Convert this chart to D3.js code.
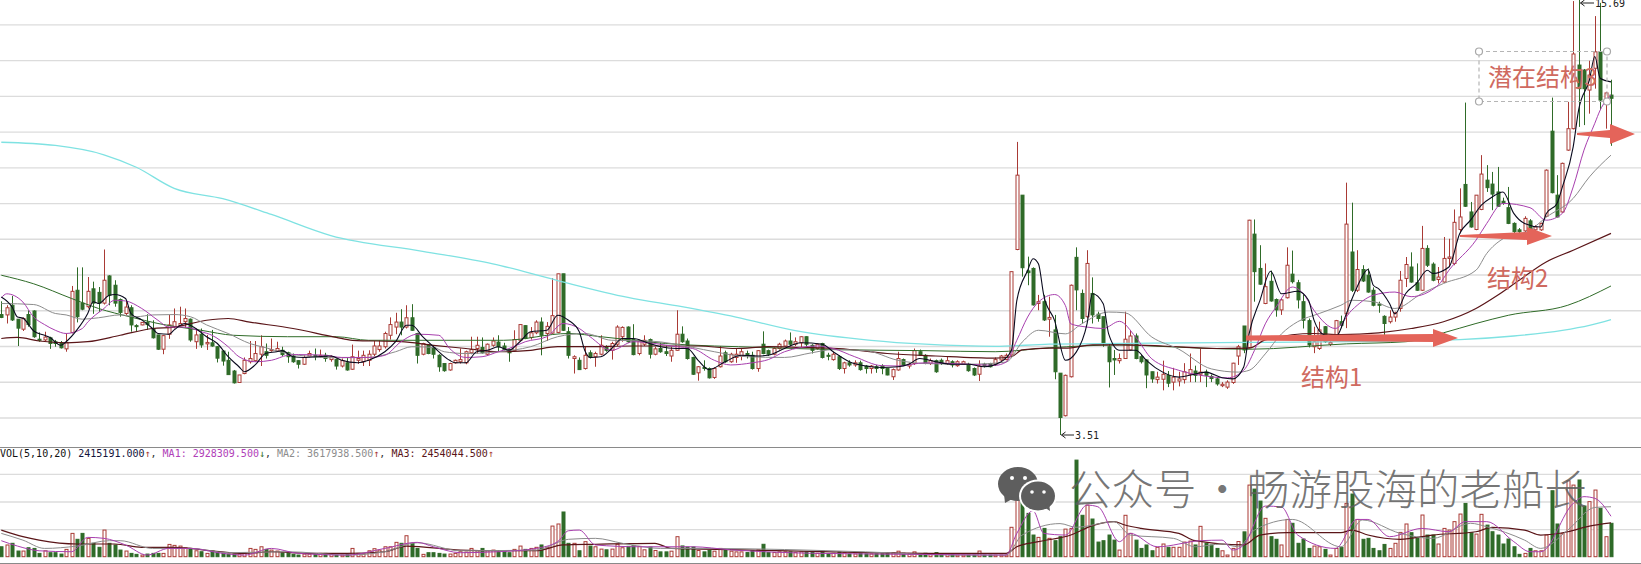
<!DOCTYPE html>
<html>
<head>
<meta charset="utf-8">
<script src="https://cdn.jsdelivr.net/npm/d3@7"></script>
<style>
html, body { margin: 0; padding: 0; background: #fff; overflow: hidden; }
svg { display: block; }
</style>
</head>
<body>
<script>
// candles, ten per row
var opens = [
6.88,6.87,7.14,6.75,6.47,6.88,6.98,6.19,6.17,6.23,
6.12,6.09,5.92,6.38,7.56,7.2,7.1,7.6,7.5,7.2,
7.96,7.7,7.3,6.91,7.07,6.57,6.59,6.66,6.49,6.31,
5.91,6.33,6.54,6.57,6.68,6.75,6.12,6.33,6.06,6.09,
5.98,5.86,5.6,5.3,4.98,5.23,5.56,5.59,5.77,5.84,
5.87,5.86,5.88,5.81,5.72,5.59,5.49,5.72,5.74,5.7,
5.74,5.62,5.62,5.44,5.53,5.35,5.6,5.56,5.6,5.77,
5.9,5.98,6.3,6.53,6.67,6.53,6.79,6.35,5.77,6.03,
5.95,5.74,5.51,5.33,5.53,5.56,5.53,5.81,5.93,5.96,
5.77,6.02,6.11,6.0,5.9,5.87,6.16,6.57,6.24,6.37,
6.67,6.35,6.36,6.38,8.02,6.4,5.65,5.6,5.37,5.81,
5.7,5.77,5.98,5.88,6.05,6.26,6.53,6.18,5.79,6.05,
6.18,5.77,5.93,5.84,5.72,5.88,6.33,6.14,5.68,5.25,
5.4,5.37,5.12,5.42,5.81,5.56,5.68,5.72,5.79,5.74,
5.37,6.05,5.87,5.77,5.93,6.0,6.14,6.05,6.09,6.26,
6.02,5.93,6.07,5.74,5.62,5.7,5.37,5.53,5.47,5.53,
5.44,5.37,5.42,5.44,5.37,5.14,5.33,5.62,5.44,5.51,
5.84,5.74,5.51,5.59,5.6,5.51,5.56,5.45,5.49,5.49,
5.37,5.21,5.49,5.51,5.49,5.61,5.62,5.75,8.7,10.22,
8.1,8.17,7.19,7.24,6.75,6.45,5.24,4.05,5.14,8.48,
7.47,6.82,7.47,6.89,6.82,5.98,5.65,5.59,5.65,5.89,
6.28,5.7,5.61,5.28,5.06,5.07,5.18,4.99,5.02,5.06,
5.21,5.3,5.21,5.27,5.15,5.08,4.89,4.85,4.98,5.72,
6.56,5.96,9.13,8.17,7.19,7.81,7.3,7.01,7.35,8.01,
7.77,7.24,6.71,5.98,5.93,6.54,6.05,6.28,6.68,6.9,
8.63,7.56,8.14,7.98,7.56,7.17,6.83,6.68,6.81,7.05,
7.89,8.21,7.77,7.56,8.73,8.29,7.86,7.79,8.45,8.31,
9.26,10.52,9.75,9.26,9.82,10.64,10.53,10.31,10.05,9.87,
9.43,9.25,9.22,9.5,9.25,9.25,9.63,12.01,10.22,9.75,
11.48,12.08,13.86,13.72,13.16,13.77,14.23,12.88,13.02];
var closes = [
6.8,7.07,6.73,6.5,6.77,6.6,6.26,6.16,6.25,6.07,
6.07,5.95,6.1,7.53,6.82,7.03,7.53,7.2,7.2,7.84,
7.42,7.2,6.94,7.09,6.59,6.55,6.66,6.6,6.23,5.91,
6.29,6.59,6.68,6.63,6.77,6.17,6.31,6.03,6.1,6.0,
5.66,5.58,5.2,4.97,5.19,5.6,5.65,5.79,5.98,5.74,
5.9,5.93,5.76,5.7,5.56,5.49,5.68,5.79,5.7,5.74,
5.65,5.7,5.44,5.59,5.33,5.7,5.65,5.74,5.77,6.0,
6.0,6.35,6.6,6.67,6.53,6.79,6.44,5.74,6.07,5.79,
5.77,5.42,5.31,5.51,5.6,5.62,5.84,5.9,6.02,5.81,
6.05,6.14,5.98,5.9,5.81,6.18,6.6,6.21,6.37,6.67,
6.3,6.55,6.85,8.02,6.44,5.74,5.7,5.34,5.74,5.68,
5.79,6.02,5.88,6.07,6.53,6.52,6.12,5.76,6.14,6.16,
5.77,5.92,5.84,5.79,5.88,6.33,6.12,5.65,5.21,5.42,
5.37,5.11,5.37,5.72,5.56,5.77,5.77,5.84,5.74,5.37,
5.87,5.79,5.77,5.93,6.05,6.14,6.05,6.12,6.26,6.05,
5.88,6.05,5.68,5.72,5.77,5.37,5.53,5.47,5.53,5.34,
5.37,5.44,5.37,5.37,5.19,5.34,5.65,5.47,5.49,5.87,
5.74,5.51,5.59,5.28,5.51,5.59,5.47,5.56,5.56,5.31,
5.19,5.44,5.44,5.42,5.62,5.72,5.74,8.08,10.78,8.19,
8.05,7.15,7.24,6.73,6.8,5.28,4.0,5.18,7.7,7.57,
6.77,8.31,6.87,6.77,6.09,5.56,5.61,5.65,6.19,6.28,
5.65,5.56,5.19,5.08,5.13,5.21,4.96,5.13,5.08,5.28,
5.34,5.18,5.27,5.18,5.09,4.94,4.93,4.99,5.52,5.98,
5.89,9.52,8.08,7.73,7.66,7.26,7.01,7.29,8.26,7.8,
7.29,6.72,6.03,6.12,6.45,6.12,6.1,6.71,6.58,9.41,
7.56,8.14,7.82,7.51,7.14,7.14,6.63,6.81,6.93,7.84,
8.28,7.79,7.56,8.73,8.26,7.84,7.93,8.45,8.49,9.46,
9.61,9.91,9.33,10.22,10.81,10.43,10.25,9.91,10.0,9.43,
9.2,9.2,9.57,9.25,9.33,9.43,10.92,10.29,9.61,11.11,
12.08,14.17,13.2,13.2,13.58,14.23,12.88,13.08,12.93];
var highs = [
7.25,7.14,7.4,6.75,6.8,7.0,7.0,6.38,6.4,6.26,
6.17,6.14,6.35,7.68,8.2,8.2,7.93,7.8,7.65,8.7,
7.98,7.84,7.33,7.27,7.14,6.61,6.67,6.89,6.72,6.31,
6.31,6.87,7.05,7.1,7.05,6.77,6.49,6.49,6.31,6.45,
6.0,5.89,5.84,5.33,5.19,5.68,6.14,6.14,6.3,6.07,
6.21,6.12,5.98,5.84,5.79,5.6,5.74,5.87,5.93,5.9,
5.81,5.74,5.65,5.65,5.68,6.04,5.87,5.87,5.88,6.14,
6.16,6.4,6.8,6.93,7.03,7.14,7.17,6.37,6.09,6.05,
6.0,5.77,5.51,5.53,5.62,5.93,5.87,6.26,6.26,6.24,
6.07,6.24,6.3,6.09,5.93,6.44,6.61,6.58,6.53,6.72,
6.8,6.67,7.9,8.02,8.02,6.53,5.74,5.68,6.0,5.88,
5.84,6.3,6.02,6.12,6.58,6.55,6.55,6.61,6.18,6.3,
6.21,5.98,6.09,6.02,5.98,7.0,6.55,6.21,5.7,5.44,
5.6,5.4,5.4,6.0,5.87,5.81,5.93,5.93,5.87,5.84,
5.88,6.41,5.9,5.96,6.09,6.18,6.38,6.24,6.27,6.27,
6.05,6.07,6.09,5.81,5.84,5.74,5.56,5.6,5.6,5.59,
5.47,5.47,5.47,5.49,5.38,5.37,5.84,5.65,5.53,5.93,
5.9,5.77,5.65,5.62,5.65,5.7,5.6,5.6,5.59,5.53,
5.4,5.6,5.53,5.53,5.68,5.75,5.79,8.08,11.71,10.22,
8.5,8.2,7.43,7.43,7.38,6.87,5.24,5.2,7.72,8.76,
7.58,8.68,7.92,6.96,6.82,6.07,5.89,5.79,6.96,6.45,
6.35,5.75,5.63,5.28,5.28,5.59,5.3,5.39,5.28,5.52,
5.79,5.45,5.93,5.34,5.2,5.13,4.99,5.04,5.53,6.03,
6.56,9.53,9.54,8.82,8.31,8.11,7.33,7.33,8.76,8.67,
7.85,7.45,6.77,6.54,6.68,6.56,6.15,6.73,6.85,10.57,
10.01,8.68,8.26,8.17,7.64,7.24,6.86,7.0,6.96,8.1,
8.49,8.62,8.31,9.36,8.82,8.34,8.21,9.05,9.0,9.82,
10.41,12.81,10.03,10.22,11.34,11.06,10.87,11.01,10.15,10.45,
9.46,9.3,9.63,9.55,9.38,9.45,10.94,12.95,10.78,11.13,
12.83,15.65,15.69,13.75,13.98,15.23,15.6,13.11,13.45];
var lows = [
6.78,6.63,6.7,6.0,6.42,6.54,6.23,6.12,6.14,5.92,
5.98,5.93,5.84,6.35,6.66,7.0,7.05,6.9,6.95,7.16,
7.14,7.1,6.82,6.87,6.4,6.42,6.58,6.45,6.21,5.89,
5.77,6.2,6.49,6.54,6.51,6.12,5.92,5.95,5.89,5.98,
5.54,5.45,5.2,4.95,4.98,5.21,5.51,5.56,5.44,5.65,
5.84,5.84,5.72,5.53,5.53,5.37,5.47,5.68,5.6,5.68,
5.56,5.56,5.34,5.4,5.31,5.33,5.5,5.44,5.44,5.72,
5.84,5.93,6.18,6.33,6.3,6.49,6.42,5.51,5.74,5.77,
5.65,5.28,5.28,5.31,5.51,5.51,5.49,5.77,5.79,5.79,
5.74,5.98,5.84,5.88,5.56,5.84,6.14,6.19,6.18,6.33,
5.74,6.14,6.34,6.36,6.42,5.65,5.23,5.33,5.34,5.65,
5.42,5.74,5.84,5.62,6.0,6.12,6.09,5.74,5.74,6.0,
5.65,5.74,5.81,5.72,5.56,5.87,6.09,5.62,5.19,5.03,
5.31,5.09,5.08,5.4,5.53,5.53,5.53,5.6,5.65,5.34,
5.28,5.77,5.72,5.74,5.9,5.98,6.0,6.0,5.96,5.96,
5.79,5.9,5.65,5.6,5.59,5.33,5.23,5.42,5.42,5.31,
5.23,5.23,5.25,5.21,5.18,5.05,5.31,5.44,5.37,5.47,
5.72,5.49,5.47,5.25,5.47,5.47,5.4,5.42,5.47,5.28,
5.16,5.02,5.4,5.4,5.44,5.57,5.6,5.73,8.68,7.94,
7.7,7.13,7.0,6.7,6.26,5.07,3.51,4.03,5.12,7.0,
6.63,6.77,6.63,6.68,5.98,4.84,5.19,5.51,5.64,5.87,
5.63,5.51,4.82,4.97,4.95,4.76,4.85,4.76,4.87,4.95,
4.99,4.99,4.99,4.85,4.99,4.89,4.85,4.8,4.94,5.47,
5.8,5.94,7.24,7.71,7.17,7.24,6.82,6.87,7.33,7.75,
7.05,6.49,5.96,5.8,5.89,6.09,6.0,6.26,6.5,6.5,
7.51,7.51,7.79,7.49,7.11,6.93,6.3,6.63,6.68,6.96,
7.65,7.77,7.54,7.54,8.21,7.81,7.75,7.77,8.21,8.26,
9.15,9.89,9.31,9.24,9.8,10.31,9.8,9.89,9.95,9.41,
9.1,9.1,9.19,9.2,9.2,9.22,9.61,10.27,9.6,9.73,
11.46,12.06,12.13,12.18,12.5,13.2,12.6,12.08,11.6];
// volume in millions
var vols = [
.72,.85,.97,.41,.41,.65,.6,.24,.43,.29,
.29,.19,.53,1.69,1.26,1.69,1.33,.97,.68,1.93,
.97,.85,.48,.41,.24,.17,.12,.19,.24,.24,
.24,.89,.82,.77,.65,.6,.43,.36,.24,.41,
.36,.24,.19,.19,.19,.29,.6,.53,.72,.53,
.48,.41,.29,.24,.17,.12,.19,.19,.19,.24,
.24,.17,.12,.12,.17,.6,.24,.19,.43,.58,
.48,.72,.72,1.04,.97,1.52,.97,.6,.17,.29,
.29,.24,.19,.19,.24,.36,.34,.6,.43,.6,
.43,.48,.36,.36,.29,.53,.77,.53,.6,.68,
.85,.68,2.22,2.37,3.24,.97,.97,.43,1.09,.77,
.72,.55,.5,.55,.9,.65,.75,.8,.75,.5,
.7,.45,.35,.35,.4,1.45,.78,.7,.7,.45,
.35,.45,.4,.6,.5,.4,.35,.35,.3,.45,
.5,.9,.3,.3,.35,.35,.35,.3,.35,.35,
.3,.25,.4,.2,.25,.35,.3,.2,.2,.25,
.2,.2,.2,.2,.25,.3,.4,.25,.2,.35,
.2,.25,.15,.3,.2,.2,.15,.12,.12,.12,
.12,.41,.12,.12,.12,.12,.12,2.13,5.6,4.23,
3.14,1.57,1.4,2.05,1.33,1.16,1.45,2.0,2.05,7.0,
3.0,3.74,2.73,1.06,1.16,1.57,1.2,.48,3.0,1.69,
1.2,.6,.85,.43,.68,.92,.68,.68,.68,1.06,
1.13,.85,2.2,.97,.85,.6,.43,.12,.6,1.1,
1.8,5.19,4.9,4.03,2.78,1.45,1.26,.85,2.7,2.42,
.97,1.28,.6,.77,.72,.53,.12,.6,.68,3.86,
4.54,2.7,1.26,1.33,.6,.43,.89,.6,.97,1.76,
2.37,1.74,1.4,3.02,1.57,1.57,.92,2.05,1.93,2.54,
3.09,3.86,1.74,1.64,3.07,2.29,1.81,1.57,.92,1.28,
.72,.17,.24,.6,.43,.43,1.57,4.78,2.37,1.69,
5.5,5.19,5.56,3.67,3.99,4.83,3.5,1.45,2.42];

// price moving averages, read at the listed candle numbers
var ma5Idx = [0,2,3,4,6,8,9,11,12,14,16,17,18,20,21,23,24,26,28,29,31,32,34,36,38,40,42,44,45,47,49,51,52,54,56,61,63,66,68,71,73,75,76,78,80,83,84,86,88,90,92,94,96,98,101,103,105,107,108,109,111,113,115,117,120,122,125,127,129,131,134,137,140,142,145,148,152,154,157,160,163,166,168,170,173,176,179,182,185,187,188,190,191,192,193,195,197,199,201,202,204,205,207,210,212,214,218,220,223,226,228,230,231,233,235,237,240,242,243,245,247,249,250,251,253,254,255,257,258,260,262,264,265,268,270,272,274,276,278,280,282,285,286,288,289,291,292,294,295,296,298];
var ma5Val = [7.37,7.09,6.81,6.78,6.42,6.3,6.24,6.02,6.12,6.45,6.91,7.24,7.19,7.42,7.44,7.33,6.91,6.73,6.49,6.35,6.33,6.45,6.63,6.49,6.26,6.07,5.7,5.42,5.28,5.47,5.8,5.84,5.87,5.7,5.68,5.72,5.6,5.53,5.6,5.84,6.12,6.58,6.58,6.26,5.98,5.6,5.53,5.53,5.84,5.88,5.98,5.88,6.12,6.4,6.44,6.86,6.72,6.4,5.88,5.68,5.7,5.93,6.21,6.21,6.07,5.98,5.93,5.93,5.6,5.34,5.56,5.74,5.72,5.74,5.93,6.09,6.05,5.84,5.56,5.44,5.4,5.42,5.49,5.65,5.56,5.49,5.49,5.42,5.55,5.88,7.27,8.11,8.44,8.3,7.41,6.71,5.6,5.83,6.62,7.46,7.18,6.34,5.88,5.88,5.6,5.36,5.13,5.18,5.27,5.11,5.08,5.41,6.34,7.27,8.09,7.46,7.53,7.28,6.73,6.3,6.25,6.9,7.3,7.65,8.14,7.7,7.6,7.19,6.9,7.47,7.75,8.12,8.03,8.21,9.15,9.52,9.94,10.17,10.31,9.71,9.43,9.33,9.7,9.99,10.45,11.57,12.6,13.44,14.1,13.49,13.39];
var ma10Idx = [0,1,4,6,8,10,12,15,16,19,21,23,26,29,31,34,37,39,42,44,47,50,53,55,60,63,68,71,74,77,81,83,86,89,92,94,97,101,104,107,109,113,117,121,125,128,132,135,139,142,145,151,154,158,163,166,171,179,184,186,188,190,192,195,197,198,201,204,207,210,213,218,222,227,230,232,234,236,239,241,243,247,250,254,258,261,266,268,273,275,278,283,286,289,291,293,295,296,298];
var ma10Val = [7.35,7.46,7.23,6.81,6.6,6.44,6.35,6.49,6.67,7.05,7.28,7.26,7.05,6.72,6.53,6.53,6.4,6.3,5.98,5.7,5.56,5.6,5.74,5.76,5.74,5.68,5.68,5.74,6.12,6.33,6.3,5.93,5.68,5.7,5.84,5.93,6.12,6.26,6.63,6.49,6.26,5.88,6.12,6.07,5.98,5.93,5.6,5.47,5.53,5.62,5.84,6.0,5.93,5.7,5.45,5.44,5.53,5.49,5.46,5.55,6.16,6.81,7.23,7.44,7.13,6.62,6.53,6.49,6.69,6.25,5.64,5.32,5.18,5.11,5.32,5.88,6.62,7.09,7.65,7.47,7.0,6.49,7.0,7.42,7.51,7.38,7.7,8.12,8.96,9.43,9.99,9.87,9.52,9.71,10.45,11.48,12.23,12.6,13.02];
var ma20Idx = [0,6,10,12,15,18,22,25,28,32,35,38,42,46,49,53,62,68,73,76,80,82,86,92,98,103,108,113,120,128,132,138,145,150,154,160,166,171,179,186,189,192,197,200,205,208,213,218,224,229,231,234,237,240,244,248,250,254,258,263,267,273,275,278,283,286,291,294,298];
var ma20Val = [7.19,7.16,6.91,6.87,6.75,6.79,6.87,6.82,6.87,6.88,6.82,6.59,6.35,6.07,5.95,5.79,5.67,5.68,5.84,5.98,5.96,5.84,5.79,5.84,5.98,6.26,6.35,6.16,6.14,5.96,5.84,5.7,5.68,5.81,5.9,5.87,5.6,5.51,5.49,5.55,6.11,6.44,6.34,6.62,6.95,6.93,6.25,5.91,5.36,5.27,5.32,5.78,6.34,6.68,6.91,7.14,7.28,7.24,7.05,7.47,7.75,8.12,8.59,9.0,9.24,9.6,10.13,10.73,11.34];
var ma60Idx = [0,3,7,12,16,22,28,32,38,42,46,54,62,65,74,80,86,92,98,103,108,117,125,129,136,142,148,155,164,173,184,187,189,194,197,202,208,215,225,231,234,243,248,255,261,267,273,277,281,286,291,298];
var ma60Val = [6.21,6.24,6.14,6.09,6.12,6.3,6.49,6.53,6.72,6.77,6.67,6.49,6.24,6.16,6.12,6.02,5.93,5.84,5.88,5.98,5.98,6.0,6.0,6.0,5.93,5.98,5.96,5.93,5.79,5.72,5.66,5.7,5.89,5.94,5.94,6.03,6.03,6.0,5.93,5.94,6.17,6.35,6.32,6.37,6.49,6.68,7.05,7.42,7.84,8.35,8.68,9.15];
var ma120Idx = [0,6,13,18,24,29,37,43,53,62,68,93,105,111,123,141,154,171,184,194,207,216,222,231,249,260,267,273,279,290,298];
var ma120Val = [7.98,7.74,7.33,7.05,6.81,6.63,6.44,6.3,6.26,6.26,6.16,6.16,6.35,6.26,6.07,5.96,5.9,5.87,5.84,5.95,6.03,5.98,5.94,5.91,6.06,6.12,6.37,6.63,6.86,7.14,7.68];
var ma250Idx = [0,10,19,25,32,41,50,61,78,91,103,116,126,136,147,161,171,184,194,213,231,250,270,280,289,294,298];
var ma250Val = [11.7,11.61,11.35,11.0,10.41,10.12,9.68,9.09,8.65,8.3,7.83,7.36,7.1,6.81,6.43,6.16,6.05,5.99,6.05,6.08,6.1,6.12,6.18,6.28,6.44,6.58,6.74];

// volume moving averages
var vma5Idx = [0,3,7,13,16,19,23,27,31,35,41,45,50,55,64,71,77,80,85,92,99,103,105,107,110,118,128,135,150,176,186,188,191,193,197,201,203,207,209,214,222,226,228,230,234,237,240,247,251,253,257,263,268,271,275,280,283,285,291,293,295,298];
var vma5Val = [1.16,.77,.43,.36,1.4,1.33,.85,.12,.6,.6,.24,.12,.6,.24,.12,.6,1.04,.72,.29,.36,.6,1.09,1.88,1.93,.85,.72,.72,.5,.25,.15,.12,1.69,3.33,1.69,1.57,3.74,3.62,1.09,1.69,.72,1.16,1.2,.48,.85,3.67,3.6,1.57,.6,2.7,2.7,1.45,2.05,1.81,2.54,2.54,1.09,.36,.36,3.86,4.35,4.23,2.93];
var vma10Idx = [0,4,8,14,20,22,28,35,42,53,64,71,77,85,99,105,110,115,122,130,160,176,186,189,196,199,206,209,217,221,226,229,232,239,248,252,259,265,272,275,282,285,290,295,298];
var vma10Val = [1.69,1.2,.6,.77,1.16,1.16,.6,.6,.29,.36,.12,.36,1.01,.43,.48,1.26,1.33,.97,.6,.6,.35,.12,.12,1.57,2.4,2.13,2.54,1.57,1.33,.72,.92,.72,1.93,2.7,.72,2.66,1.69,1.33,2.42,2.17,1.2,.6,1.93,3.57,3.62];
var vma20Idx = [0,4,7,14,21,26,32,39,45,50,57,64,71,75,85,92,99,104,110,121,124,137,160,176,186,188,192,198,202,206,208,211,218,221,230,233,238,248,250,253,259,265,273,276,282,285,290,294,298];
var vma20Val = [1.93,1.45,1.2,.92,.92,.68,.68,.43,.24,.36,.24,.24,.36,.77,.48,.43,.43,.85,.9,.97,.6,.5,.3,.24,.24,.72,1.09,1.57,2.25,2.54,2.3,2.05,1.69,1.16,.85,1.57,1.74,1.74,1.93,1.57,1.26,1.57,1.81,2.13,1.93,1.57,1.81,2.22,2.45];

var width = 1641, height = 564;
var red = "#a93a35", green = "#2f6b28";

var svg = d3.select("body").append("svg")
    .attr("width", width)
    .attr("height", height);

var x = d3.scaleLinear().domain([0, opens.length - 1]).range([1.3, 1611]);
var y = d3.scaleLinear().domain([4, 15]).range([417.5, 24.3]);
var yVol = d3.scaleLinear().domain([0, 6]).range([556.7, 473.9]);

function px(i) { return Math.round(x(i)) + 0.5; }

// grid through the axes, no labels on the original
function grid(scale, count) {
  return d3.axisLeft(scale).ticks(count).tickSize(-width).tickFormat("");
}
var gridMain = svg.append("g").attr("class", "grid").call(grid(y, 11));
var gridVol = svg.append("g").attr("class", "grid").call(grid(yVol, 3));
svg.selectAll(".grid .domain").remove();
svg.selectAll(".grid line").attr("stroke", "#dcdcdc").attr("stroke-width", 1.3);
svg.selectAll(".grid text").remove();
gridVol.selectAll(".tick").filter(function(d) { return d === 0; }).remove();

svg.append("line").attr("x1", 0).attr("x2", width).attr("y1", 447.5).attr("y2", 447.5).attr("stroke", "#8a8a8a");
svg.append("line").attr("x1", 0).attr("x2", width).attr("y1", 563.5).attr("y2", 563.5).attr("stroke", "#8a8a8a");

var idx = d3.range(opens.length);
function isUp(i) { return closes[i] >= opens[i]; }

// candles
var candles = svg.append("g").selectAll("g").data(idx).enter().append("g");
candles.append("line")
    .attr("x1", px).attr("x2", px)
    .attr("y1", function(i) { return y(highs[i]); })
    .attr("y2", function(i) { return y(lows[i]); })
    .attr("stroke", function(i) { return isUp(i) ? red : green; });
candles.append("rect")
    .attr("x", function(i) { return px(i) - 1.5; })
    .attr("width", 3)
    .attr("y", function(i) { return y(Math.max(opens[i], closes[i])); })
    .attr("height", function(i) { return Math.max(1, Math.abs(y(opens[i]) - y(closes[i]))); })
    .attr("fill", function(i) { return isUp(i) ? "#fff" : green; })
    .attr("stroke", function(i) { return isUp(i) ? red : green; });

// volume bars
svg.append("g").selectAll("rect").data(idx).enter().append("rect")
    .attr("x", function(i) { return px(i) - 1.5; })
    .attr("width", 3)
    .attr("y", function(i) { return yVol(vols[i]); })
    .attr("height", function(i) { return yVol(0) - yVol(vols[i]); })
    .attr("fill", function(i) { return isUp(i) ? "#fff" : green; })
    .attr("stroke", function(i) { return isUp(i) ? red : green; });

function drawLine(ids, vals, scale, color, w) {
  var line = d3.line()
      .x(function(d, k) { return x(ids[k]); })
      .y(function(d) { return scale(d); })
      .curve(d3.curveMonotoneX);
  svg.append("path").datum(vals)
      .attr("d", line)
      .attr("fill", "none")
      .attr("stroke", color)
      .attr("stroke-width", w);
}

drawLine(ma250Idx, ma250Val, y, "#7fe2e2", 1.3);
drawLine(ma120Idx, ma120Val, y, "#2f6b28", 1);
drawLine(ma60Idx, ma60Val, y, "#5a1518", 1.2);
drawLine(ma20Idx, ma20Val, y, "#8c8c8c", 1);
drawLine(ma10Idx, ma10Val, y, "#a83fae", 1);
drawLine(ma5Idx, ma5Val, y, "#0a0a1e", 1.1);

drawLine(vma20Idx, vma20Val, yVol, "#5a1518", 1.2);
drawLine(vma10Idx, vma10Val, yVol, "#8c8c8c", 1);
drawLine(vma5Idx, vma5Val, yVol, "#a83fae", 1);

// low and high labels
function extremeLabel(i, value, tx, label) {
  var yy = y(value);
  yy = Math.max(yy, 3);
  svg.append("path")
      .attr("d", "M" + (px(i) + 1) + "," + yy + "H" + tx + "M" + (px(i) + 5) + "," + (yy - 3) + "L" + (px(i) + 1) + "," + yy + "L" + (px(i) + 5) + "," + (yy + 3))
      .attr("fill", "none").attr("stroke", "#222");
  svg.append("text").attr("x", tx + 1).attr("y", yy + 4)
      .attr("font-family", "DejaVu Sans Mono").attr("font-size", 10)
      .attr("fill", "#222").text(label);
}
extremeLabel(196, lows[196], 1074, "3.51");
extremeLabel(292, highs[292], 1594, "15.69");

// indicator legend
var legendParts = [
  ["VOL(5,10,20) ", "#111"], ["2415191.000", "#14143c"], ["↑", red], [", ", "#333"],
  ["MA1: 2928309.500", "#b040b8"], ["↓", green], [", ", "#333"],
  ["MA2: 3617938.500", "#8c8c8c"], ["↑", red], [", ", "#333"],
  ["MA3: 2454044.500", "#5a1518"], ["↑", red]
];
var legend = svg.append("text").attr("x", 0).attr("y", 457)
    .attr("font-family", "DejaVu Sans Mono").attr("font-size", 10)
    .attr("xml:space", "preserve");
legendParts.forEach(function(p) {
  legend.append("tspan").attr("fill", p[1]).text(p[0]);
});

// hand drawn annotations
var noteColor = "#e4645a", noteText = "#cf6a60", cjk = "Noto Sans CJK SC";
function arrow(x0, x1, yy, head, hh, tail0, tail1) {
  svg.append("path")
      .attr("d", "M" + x0 + "," + (yy - tail0) + "L" + (x1 - head) + "," + (yy - tail1) + "L" + (x1 - head) + "," + (yy - hh) +
        "L" + x1 + "," + yy + "L" + (x1 - head) + "," + (yy + hh) + "L" + (x1 - head) + "," + (yy + tail1) + "L" + x0 + "," + (yy + tail0) + "Z")
      .attr("fill", noteColor);
}
arrow(1246, 1458, 338, 25, 9, 2.5, 4);
arrow(1460, 1552, 236, 25, 9, 1, 4);
arrow(1577, 1635, 134, 25, 10, 1, 4);

function note(tx, ty, s) {
  svg.append("text").attr("x", tx).attr("y", ty)
      .attr("font-family", cjk).attr("font-size", 24)
      .attr("fill", noteText).text(s);
}
note(1301, 386, "结构1");
note(1487, 287, "结构2");
note(1488, 86, "潜在结构3");

svg.append("rect").attr("x", 1479).attr("y", 51.5).attr("width", 128).attr("height", 50)
    .attr("fill", "none").attr("stroke", "#b5b5b5").attr("stroke-dasharray", "4,3").attr("stroke-width", 1.2);
[[1479, 51.5], [1607, 51.5], [1479, 101.5], [1607, 101.5]].forEach(function(c) {
  svg.append("circle").attr("cx", c[0]).attr("cy", c[1]).attr("r", 3.5)
      .attr("fill", "#fff").attr("stroke", "#a8a8a8").attr("stroke-width", 1.2);
});

// watermark
var wmColor = "#5e5e5e";
svg.append("ellipse").attr("cx", 1018).attr("cy", 484).attr("rx", 20).attr("ry", 17).attr("fill", wmColor);
svg.append("path").attr("d", "M1004,494L1005,503L1014,498Z").attr("fill", wmColor);
svg.append("ellipse").attr("cx", 1038).attr("cy", 496).attr("rx", 19).attr("ry", 16.5).attr("fill", "#fff");
svg.append("ellipse").attr("cx", 1038).attr("cy", 496).attr("rx", 17).attr("ry", 14.5).attr("fill", wmColor);
svg.append("path").attr("d", "M1044,507L1050,511L1049,503Z").attr("fill", wmColor);
[[1012, 478, 2], [1025, 478, 2], [1032, 492, 1.8], [1044, 492, 1.8]].forEach(function(c) {
  svg.append("circle").attr("cx", c[0]).attr("cy", c[1]).attr("r", c[2]).attr("fill", "#fff");
});
[[1069, "公众号"], [1201, "·"], [1247, "畅游股海的老船长"]].forEach(function(t) {
  svg.append("text").attr("x", t[0]).attr("y", 505)
      .attr("font-family", cjk).attr("font-size", 42.5).attr("font-weight", 300)
      .attr("fill", wmColor).attr("fill-opacity", 0.85).text(t[1]);
});
</script>
</body>
</html>
